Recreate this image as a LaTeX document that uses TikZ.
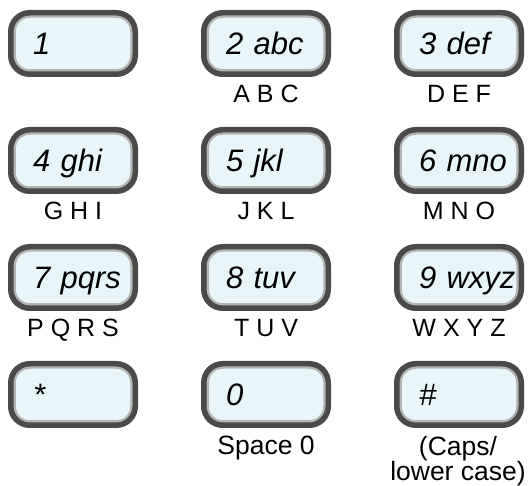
\documentclass[tikz,border=0pt]{standalone}
\usepackage{fontspec}
\setmainfont{Liberation Sans}
\usetikzlibrary{positioning}
\definecolor{keyedge}{HTML}{4A4A4A}
\definecolor{keyring}{HTML}{B4B4B4}
\definecolor{keyfill}{HTML}{E8F5F9}
\tikzset{
  key/.style={draw=keyedge, line width=5.5pt, fill=keyfill, rounded corners=19pt,
    minimum width=124.5pt, minimum height=61.5pt, text width=80pt, align=left,
    inner xsep=22pt, text height=22pt, text depth=0pt,
    font=\fontsize{31}{31}\selectfont\itshape,
    path picture={\draw[keyring, line width=10pt, rounded corners=19pt]
      (path picture bounding box.south west) rectangle (path picture bounding box.north east);}},
  sub/.style={inner sep=0pt, align=center, font=\fontsize{25}{25}\selectfont},
  bigsub/.style={sub, font=\fontsize{26.5}{25}\selectfont},
  node distance=50pt and 63pt
}

\begin{document}
\begin{tikzpicture}
    \useasboundingbox (0,0) rectangle (528pt,-486pt);
    % keys
    \node[key] (k1) at (73pt,-43.5pt) {1};
    \node[key, right=of k1] (k2) {2~abc};
    \node[key, right=of k2] (k3) {3~def};
    \node[key, below=of k1] (k4) {4~ghi};
    \node[key, right=of k4] (k5) {5~jkl};
    \node[key, right=of k5] (k6) {6~mno};
    \node[key, below=of k4] (k7) {7~pqrs};
    \node[key, right=of k7] (k8) {8~tuv};
    \node[key, right=of k8] (k9) {9~wxyz};
    \node[key, below=of k7] (kstar) {*};
    \node[key, right=of kstar] (k0) {0};
    \node[key, right=of k0] (khash) {\#};
    % letters under the keys
    \node[sub, below=8pt of k2] (l2) {A B C};
    \node[sub, below=8pt of k3] (l3) {D E F};
    \node[sub, below=8pt of k4] (l4) {G H I};
    \node[sub, below=8pt of k5] (l5) {J K L};
    \node[sub, below=8pt of k6] (l6) {M N O};
    \node[sub, below=8pt of k7] (l7) {P Q R S};
    \node[sub, below=8pt of k8] (l8) {T U V};
    \node[sub, below=8pt of k9] (l9) {W X Y Z};
    \node[bigsub, below=8pt of k0] (l0) {Space 0};
    \node[bigsub, below=8pt of khash, xshift=-1pt] (lhash) {(Caps/\\lower case)};
\end{tikzpicture}
\end{document}
